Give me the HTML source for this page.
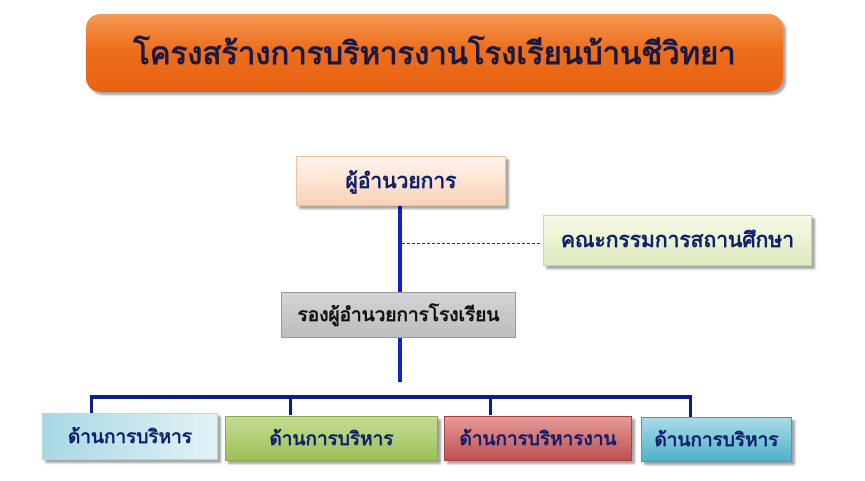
<!DOCTYPE html><html><head><meta charset="utf-8"><style>
body{margin:0;width:865px;height:481px;background:#fff;position:relative;overflow:hidden;font-family:"Liberation Sans","Noto Sans CJK SC",sans-serif;font-weight:bold}
.b{position:absolute;display:flex;align-items:center;justify-content:center;color:#0f1f6b;box-sizing:border-box;box-shadow:3px 3px 2px rgba(0,0,0,.35)}
.l{position:absolute;background:#0a1d8a}
</style></head><body>
<div class="b" style="left:86px;top:14px;width:697px;height:78px;border-radius:14px;background:linear-gradient(#f59a55,#ee6e1c 45%,#e86212);font-size:31px;color:#1a1a40;font-weight:bold">โครงสร้างการบริหารงานโรงเรียนบ้านชีวิทยา</div>
<div class="l" style="left:398px;top:206px;width:4px;height:176px;background:#1020d0"></div>
<div style="position:absolute;left:402px;top:243px;width:138px;border-top:1px dashed #333"></div>
<div class="b" style="left:296px;top:156px;width:210px;height:50px;background:linear-gradient(#fff5ee,#fad2b6);border:1px solid #f0c0a0;font-size:21px">ผู้อำนวยการ</div>
<div class="b" style="left:543px;top:215px;width:269px;height:51px;background:linear-gradient(#f7fbe8,#dde9bd);border:1px solid #c9d9a0;font-size:21px">คณะกรรมการสถานศึกษา</div>
<div class="b" style="left:281px;top:292px;width:235px;height:46px;background:linear-gradient(#d4d4d4,#bdbdbd);border:1px solid #999;font-size:19px;color:#111;box-shadow:none">รองผู้อำนวยการโรงเรียน</div>
<div class="l" style="left:90px;top:395px;width:602px;height:4px"></div>
<div class="l" style="left:90px;top:395px;width:3px;height:18px"></div>
<div class="l" style="left:289px;top:395px;width:3px;height:20px"></div>
<div class="l" style="left:489px;top:395px;width:3px;height:20px"></div>
<div class="l" style="left:689px;top:395px;width:3px;height:22px"></div>
<div class="b" style="left:42px;top:413px;width:176px;height:47px;background:linear-gradient(90deg,#a8d8e4,#e2f2f6);border:1px solid #b0d8e0;font-size:19px">ด้านการบริหาร</div>
<div class="b" style="left:225px;top:416px;width:213px;height:45px;background:linear-gradient(#c6dc94,#9cc155);border:1px solid #8aa848;font-size:19px">ด้านการบริหาร</div>
<div class="b" style="left:444px;top:416px;width:188px;height:45px;background:linear-gradient(#e69a9a,#c05050);border:1px solid #a84040;font-size:19px">ด้านการบริหารงาน</div>
<div class="b" style="left:641px;top:417px;width:151px;height:45px;background:linear-gradient(#a8dce8,#4fb2cc);border:1px solid #40a0bc;font-size:19px">ด้านการบริหาร</div>
</body></html>
